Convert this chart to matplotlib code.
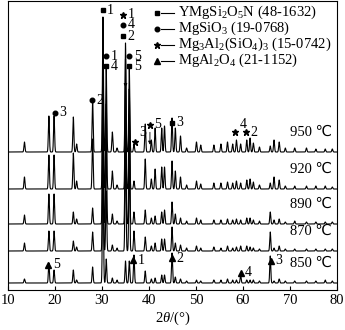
import numpy as np
import matplotlib
matplotlib.use('Agg')
import matplotlib.pyplot as plt

plt.rcParams['font.family'] = ['Liberation Serif', 'DejaVu Sans']
plt.rcParams['mathtext.fontset'] = 'custom'
plt.rcParams['mathtext.rm'] = 'Liberation Serif'
plt.rcParams['mathtext.it'] = 'Liberation Serif:italic'

# peak positions (2theta, deg) and heights for each temperature
pos = [13.5, 18.7, 19.8, 23.9, 24.6, 28.0, 30.2, 30.9, 32.2, 33.2, 35.0, 35.8, 36.8,
       39.2, 40.5, 41.3, 42.7, 43.3, 44.9, 45.6, 46.7, 48.0, 50.1, 51.0, 53.8, 55.3,
       56.7, 57.8, 58.6, 59.5, 60.8, 61.5, 62.2, 63.5, 65.8, 66.6, 67.7, 69.0, 71.0,
       73.5, 75.5, 77.5, 79.0]
h950 = [10, 36, 36, 35, 8, 52, 135, 83, 20, 4, 109, 85, 8, 28, 12, 24, 24, 26, 34, 24,
        16, 4, 10, 7, 7, 8, 10, 8, 12, 8, 12, 14, 9, 5, 6, 12, 10, 4, 4, 4, 3, 3, 3]
h920 = [12, 34, 34, 36, 8, 50, 150, 85, 18, 4, 130, 100, 8, 30, 10, 20, 22, 22, 28, 18,
        12, 4, 8, 5, 6, 6, 7, 6, 8, 6, 9, 10, 7, 4, 6, 12, 9, 3, 3, 3, 3, 3, 2]
h890 = [9, 30, 30, 12, 5, 16, 160, 85, 10, 3, 140, 110, 12, 14, 6, 8, 12, 14, 22, 10,
        6, 3, 6, 4, 4, 4, 5, 4, 5, 4, 6, 6, 4, 3, 12, 4, 5, 2, 3, 2, 2, 2, 2]
h870 = [8, 20, 20, 10, 4, 19, 150, 60, 6, 3, 120, 100, 20, 14, 5, 8, 12, 12, 24, 8,
        6, 3, 5, 3, 4, 3, 5, 3, 4, 5, 5, 4, 3, 2, 19, 3, 5, 2, 2, 2, 2, 2, 2]
h850 = [4, 20, 13, 13, 3, 16, 130, 24, 5, 3, 22, 22, 28, 12, 4, 5, 8, 8, 30, 6,
        4, 2, 3, 2, 3, 3, 4, 3, 3, 8, 3, 3, 3, 2, 27, 2, 4, 2, 2, 2, 2, 3, 2]
temps = ['950', '920', '890', '870', '850']
heights = [h950, h920, h890, h870, h850]
offsets = [137.5, 100.5, 65.5, 38.5, 6.5]

# phase labels: marker, number, 2theta, height
ann = [('s', '1', 30.15, 279.5), ('*', '1', 34.55, 274.5), ('o', '4', 34.55, 264.5),
       ('s', '2', 34.55, 253.5), ('o', '1', 30.85, 233.5), ('s', '4', 30.85, 223.5),
       ('o', '5', 35.8, 233.5), ('s', '5', 35.8, 223.5), ('o', '2', 27.85, 189.5),
       ('o', '3', 20.0, 176.5), ('*', '3', 37.0, 147.5), ('*', '5', 40.2, 164.5),
       ('s', '3', 44.8, 166.5), ('*', '4', 58.3, 157.5), ('*', '2', 60.6, 157.5),
       ('^', '5', 18.55, 24.5), ('^', '1', 36.65, 29.5), ('^', '2', 44.8, 31.5),
       ('^', '4', 59.5, 16.5), ('^', '3', 65.9, 28.5)]
raised = {('*', '3'): 9, ('*', '4'): 7}
msize = {'s': 3.2, 'o': 3.3, '*': 4.8, '^': 4.2}

phases = [r'YMgSi$_2$O$_5$N (48-1632)', r'MgSiO$_3$ (19-0768)',
          r'Mg$_3$Al$_2$(SiO$_4$)$_3$ (15-0742)', r'MgAl$_2$O$_4$ (21-1152)']
phase_marks = ['s', 'o', '*', '^']

x = np.arange(10, 80.001, 0.01)

fig = plt.figure(figsize=(3.45, 3.30), dpi=100)
ax = fig.add_axes([8/345, 40.5/330, 329/345, 288.5/330])

for t, h, off in zip(temps, heights, offsets):
    y = np.zeros_like(x)
    for p, a in zip(pos, h):
        y += a * np.exp(-0.5 * ((x - p) / 0.11) ** 2)
    ax.plot(x, y + off, color='k', lw=0.8)
    ax.text(78.9, off + 19.5, t + ' \u2103', ha='right', va='center', fontsize=10.5)

for m, n, tt, yy in ann:
    ax.plot(tt, yy, marker=m, color='k', ms=msize[m], ls='none')
    dy = raised.get((m, n), 0)
    ax.annotate(n, (tt, yy), xytext=(3.2, dy * 0.72), textcoords='offset points',
                ha='left', va='center', fontsize=10)

ax.annotate('', xy=(35.0, 199.5), xytext=(35.0, 247),
            arrowprops=dict(arrowstyle='-|>', color='k', lw=0.6, mutation_scale=5))
ax.annotate('', xy=(40.2, 142), xytext=(40.2, 160),
            arrowprops=dict(arrowstyle='-|>', color='k', lw=0.6, mutation_scale=5))

for i, (lab, m) in enumerate(zip(phases, phase_marks)):
    yl = 277 - i * 16
    ax.plot(41.6, yl, marker=m, color='k', ms=msize[m], ls='none')
    ax.plot([42.6, 45.3], [yl, yl], color='k', lw=0.8)
    ax.text(46.1, yl, lab, ha='left', va='center', fontsize=10.5)

ax.set_xlim(10, 80)
ax.set_ylim(0, 288.5)
ax.set_xticks(range(10, 81, 10))
ax.set_yticks([])
ax.tick_params(axis='x', direction='in', length=3, labelsize=10.5, pad=3)
for s in ax.spines.values():
    s.set_linewidth(0.8)
ax.set_xlabel('2$\\it{\\theta}$/(\u00b0)', fontsize=10.5, labelpad=2)

fig.savefig('out.png', dpi=100)
